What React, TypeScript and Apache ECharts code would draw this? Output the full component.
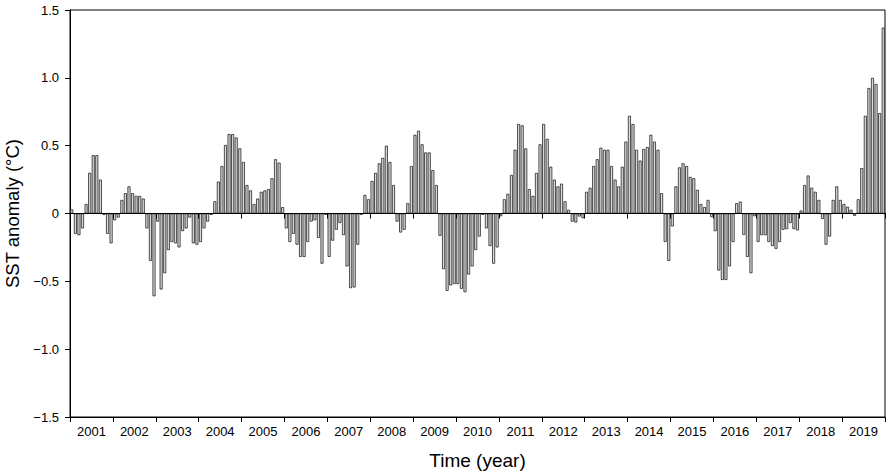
import React, { useEffect, useRef } from "react";
import * as echarts from "echarts";

const years = ["2001","2002","2003","2004","2005","2006","2007","2008","2009","2010","2011","2012","2013","2014","2015","2016","2017","2018","2019"];

const sst2001 = [0.03, -0.15, -0.16, -0.11, 0.07, 0.30, 0.43, 0.43, 0.25, -0.01, -0.15, -0.22];
const sst2002 = [-0.05, -0.03, 0.10, 0.15, 0.20, 0.15, 0.13, 0.13, 0.11, -0.11, -0.35, -0.61];
const sst2003 = [-0.06, -0.56, -0.44, -0.27, -0.21, -0.22, -0.25, -0.13, -0.11, -0.03, -0.22, -0.23];
const sst2004 = [-0.21, -0.11, -0.06, -0.01, 0.09, 0.235, 0.35, 0.505, 0.585, 0.585, 0.56, 0.48];
const sst2005 = [0.38, 0.21, 0.17, 0.07, 0.11, 0.16, 0.17, 0.18, 0.26, 0.40, 0.375, 0.047];
const sst2006 = [-0.11, -0.21, -0.15, -0.23, -0.32, -0.32, -0.21, -0.06, -0.05, -0.18, -0.37, -0.01];
const sst2007 = [-0.32, -0.20, -0.12, -0.07, -0.16, -0.39, -0.55, -0.545, -0.23, -0.01, 0.137, 0.105];
const sst2008 = [0.24, 0.30, 0.37, 0.41, 0.50, 0.38, 0.21, -0.06, -0.14, -0.12, 0.076, 0.35];
const sst2009 = [0.58, 0.61, 0.51, 0.45, 0.45, 0.32, 0.21, -0.165, -0.41, -0.57, -0.53, -0.52];
const sst2010 = [-0.52, -0.555, -0.58, -0.45, -0.39, -0.27, -0.17, -0.01, -0.11, -0.24, -0.37, -0.25];
const sst2011 = [-0.02, 0.105, 0.145, 0.285, 0.47, 0.66, 0.65, 0.48, 0.18, 0.13, 0.30, 0.51];
const sst2012 = [0.66, 0.55, 0.345, 0.25, 0.20, 0.22, 0.09, 0.027, -0.06, -0.066, -0.022, -0.034];
const sst2013 = [0.16, 0.19, 0.35, 0.40, 0.485, 0.47, 0.47, 0.35, 0.25, 0.20, 0.345, 0.53];
const sst2014 = [0.72, 0.66, 0.47, 0.39, 0.475, 0.49, 0.58, 0.53, 0.47, 0.15, -0.21, -0.35];
const sst2015 = [-0.095, 0.20, 0.34, 0.37, 0.35, 0.27, 0.26, 0.175, 0.07, 0.047, 0.10, -0.027];
const sst2016 = [-0.13, -0.42, -0.49, -0.49, -0.39, -0.21, 0.076, 0.088, -0.157, -0.32, -0.44, -0.02];
const sst2017 = [-0.21, -0.16, -0.16, -0.21, -0.24, -0.26, -0.21, -0.12, -0.115, -0.07, -0.115, -0.125];
const sst2018 = [0.022, 0.21, 0.28, 0.19, 0.16, 0.10, -0.04, -0.23, -0.17, 0.10, 0.20, 0.10];
const sst2019 = [0.07, 0.05, 0.027, -0.017, 0.105, 0.335, 0.72, 0.925, 1.0, 0.955, 0.74, 1.37];

const yearlyValues = [sst2001, sst2002, sst2003, sst2004, sst2005, sst2006, sst2007, sst2008, sst2009, sst2010, sst2011, sst2012, sst2013, sst2014, sst2015, sst2016, sst2017, sst2018, sst2019];

const yTicks = { min: -1.5, max: 1.5, interval: 0.5 };

const FONT = "Liberation Sans";

export default function App() {
  const ref = useRef<HTMLDivElement>(null);

  useEffect(() => {
    if (!ref.current) return;
    document.body.style.margin = "0";
    const chart = echarts.init(ref.current, undefined, { renderer: "svg" });

    const months: string[] = [];
    const values: number[] = [];
    years.forEach((y, i) => {
      yearlyValues[i].forEach((v, m) => {
        months.push(`${y}-${String(m + 1).padStart(2, "0")}`);
        values.push(v);
      });
    });

    const axisColor = "#000";

    chart.setOption({
      animation: false,
      backgroundColor: "#fff",
      grid: {
        left: 70,
        right: 6,
        top: 10,
        bottom: 58,
        show: true,
        borderColor: "#000",
        borderWidth: 1,
        containLabel: false,
        outerBoundsMode: "none",
      },
      xAxis: [
        {
          type: "category",
          data: years,
          position: "bottom",
          boundaryGap: true,
          axisLine: { onZero: false, lineStyle: { color: axisColor, width: 1 } },
          axisTick: { show: true, length: 5, lineStyle: { color: axisColor } },
          axisLabel: { color: "#000", fontSize: 13, fontFamily: FONT, margin: 8, interval: 0 },
          splitLine: { show: false },
          name: "Time (year)",
          nameLocation: "middle",
          nameGap: 34,
          nameTextStyle: { color: "#000", fontSize: 19, fontFamily: FONT },
        },
        {
          type: "category",
          data: months,
          position: "bottom",
          show: false,
          boundaryGap: true,
        },
        {
          type: "category",
          data: years,
          position: "bottom",
          boundaryGap: true,
          axisLine: { show: true, onZero: true, onZeroAxisIndex: 0, lineStyle: { color: axisColor, width: 1 } },
          axisTick: { show: true, length: 5, lineStyle: { color: axisColor } },
          axisLabel: { show: false },
          splitLine: { show: false },
          z: 5,
        },
      ],
      yAxis: {
        type: "value",
        min: yTicks.min,
        max: yTicks.max,
        interval: yTicks.interval,
        axisLine: { show: true, onZero: false, lineStyle: { color: axisColor, width: 1 } },
        axisTick: { show: true, length: 5, lineStyle: { color: axisColor } },
        splitLine: { show: false },
        axisLabel: {
          color: "#000",
          fontSize: 13,
          fontFamily: FONT,
          margin: 11,
          formatter: (v: number) => (v === 0 ? "0" : (v < 0 ? "\u2212" : "") + Math.abs(v).toFixed(1)),
        },
        name: "SST anomaly (°C)",
        nameLocation: "middle",
        nameGap: 44,
        nameTextStyle: { color: "#000", fontSize: 18.5, fontFamily: FONT },
      },
      series: [
        {
          type: "bar",
          xAxisIndex: 1,
          data: values,
          barWidth: 3.0,
          itemStyle: { color: "#d9d9d9", borderColor: "#1a1a1a", borderWidth: 0.75 },
          z: 2,
        },
      ],
    });

    return () => chart.dispose();
  }, []);

  return (
    <div
      ref={ref}
      style={{ position: "absolute", left: 0, top: 0, width: 891, height: 475 }}
    />
  );
}
